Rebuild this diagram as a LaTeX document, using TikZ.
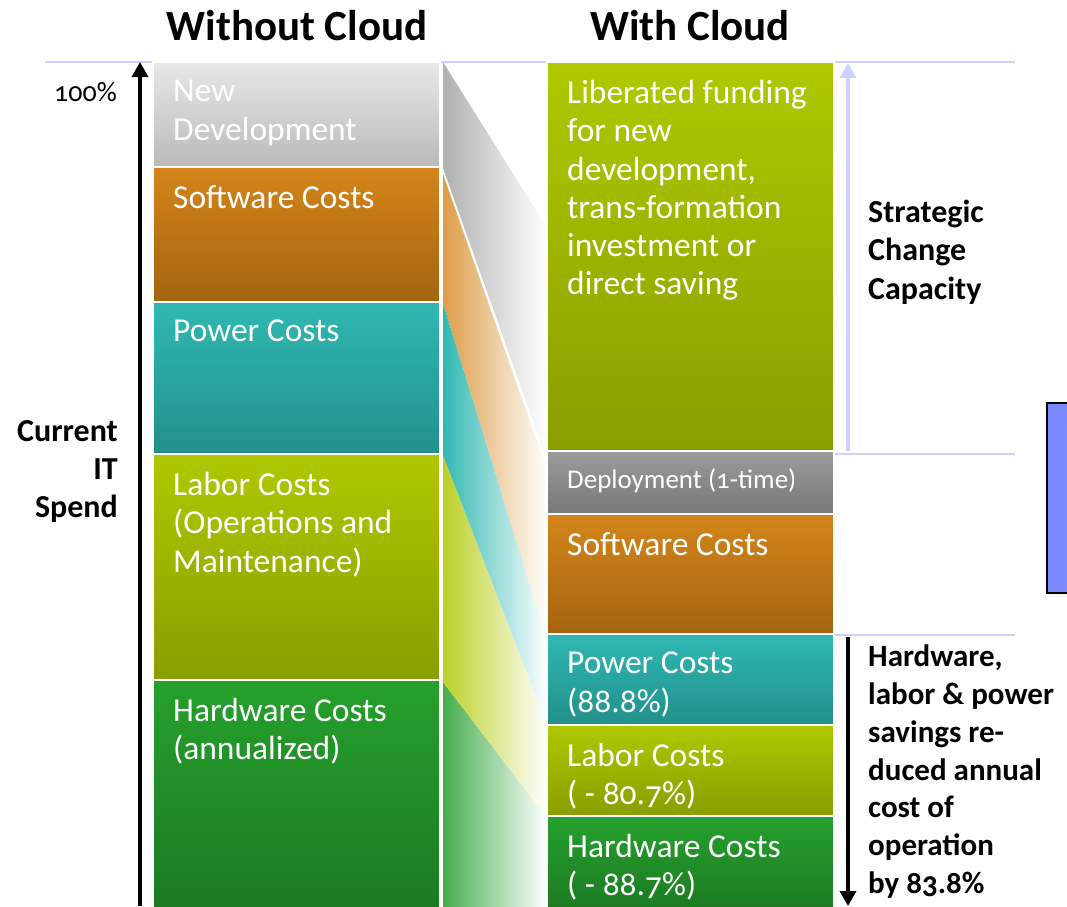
\documentclass[tikz,border=0pt]{standalone}
\usepackage{fontspec}
\setmainfont{Carlito}[Numbers=OldStyle]
\usetikzlibrary{arrows.meta}
\definecolor{ndevtop}{HTML}{E8E8E8}\definecolor{ndevbot}{HTML}{BABABA}
\definecolor{softtop}{HTML}{D4851A}\definecolor{softbot}{HTML}{A4640F}
\definecolor{powtop}{HTML}{30B8B3}\definecolor{powbot}{HTML}{22908B}
\definecolor{labtop}{HTML}{B0C800}\definecolor{labbot}{HTML}{8A9D00}
\definecolor{hardtop}{HTML}{25A02D}\definecolor{hardbot}{HTML}{1C7A22}
\definecolor{deptop}{HTML}{9C9C9C}\definecolor{depbot}{HTML}{777777}
\definecolor{guide}{HTML}{D0D0FF}
\definecolor{panel}{HTML}{7B8BFF}
\newcommand{\costbox}[6]{%
  \shade[top color=#4top, bottom color=#4bot, draw=white, line width=2pt] (#1,#2) rectangle (#1+287,#3);
  \node[boxtext] (#5) at (#1+20,#2+18) {#6};}
\newcommand{\funnel}[5]{\shade[left color=#1, right color=white] (443,#2) -- (443,#3) -- (547,#4) -- (547,#5) -- cycle;}

\begin{document}
\begin{tikzpicture}[x=1pt, y=-1pt,
    boxtext/.style={anchor=north west, inner sep=0pt, text=white, align=left,
      font=\fontsize{33.5}{38.3}\selectfont},
    label/.style={inner sep=0pt, font=\bfseries\fontsize{32}{38.3}\selectfont},
    title/.style={anchor=base, inner sep=0pt, font=\bfseries\fontsize{43}{50}\selectfont},
    guideline/.style={draw=guide, line width=2pt},
    tip/.style={-{Triangle[width=16pt,length=15pt]}, line width=3.5pt}]
  \useasboundingbox (0,0) rectangle (1067,906);
  \node[title] (without) at (297,40) {Without Cloud};
  \node[title] (with) at (690,40) {With Cloud};
  \draw[guideline] (45,62) -- (1015,62);
  \draw[guideline] (835,454) -- (1015,454);
  \draw[guideline] (835,635) -- (1015,635);

  \funnel{hardtop!85!white}{682}{910}{910}{818}
  \funnel{labtop!85!white}{455}{682}{818}{725}
  \funnel{powtop}{303}{455}{725}{640}
  \funnel{softtop!80!white}{174}{303}{640}{470}
  \funnel{ndevbot!95!black}{62}{168}{460}{228}

  \costbox{153}{62}{167}{ndev}{ndevl}{New\\Development}
  \costbox{153}{167}{302}{soft}{softl}{Software Costs}
  \costbox{153}{302}{454}{pow}{powl}{Power Costs}
  \costbox{153}{454}{680}{lab}{labl}{Labor Costs\\(Operations and\\Maintenance)}
  \costbox{153}{680}{912}{hard}{hardl}{Hardware Costs\\(annualized)}

  \costbox{547}{62}{451}{lab}{libr}{Liberated funding\\for new\\development,\\trans-formation\\investment or\\direct saving}
  \costbox{547}{451}{514}{dep}{depr}{\fontsize{27}{32}\selectfont Deployment (1-time)}
  \costbox{547}{514}{634}{soft}{softr}{Software Costs}
  \costbox{547}{634}{725}{pow}{powr}{Power Costs\\(88.8\%)}
  \costbox{547}{725}{816}{lab}{labr}{Labor Costs\\( - 80.7\%)}
  \costbox{547}{816}{912}{hard}{hardr}{Hardware Costs\\( - 88.7\%)}

  \node[anchor=base east, inner sep=0pt, font=\fontsize{28}{30}\selectfont] (full) at (117,101) {100\%};
  \node[label, anchor=north east, align=right] (spend) at (118,420) {Current\\IT\\Spend};
  \node[label, anchor=north west, align=left] (strategic) at (868,200) {Strategic\\Change\\Capacity};
  \node[label, anchor=north west, align=left, font=\bfseries\fontsize{31}{37.7}\selectfont] (savings) at (868,645)
    {Hardware,\\labor \& power\\savings re-\\duced annual\\cost of\\operation\\by 83.8\%};

  \coordinate (spendtop) at (140,62);
  \coordinate (spendbot) at (140,906);
  \draw[tip, {Triangle[width=16pt,length=15pt]}-] (spendtop) -- (spendbot);
  \coordinate (gainbot) at (848,451);
  \coordinate (gaintop) at (848,63);
  \draw[tip, draw=guide, fill=guide] (gainbot) -- (gaintop);
  \coordinate (cuttop) at (848,637);
  \coordinate (cutbot) at (848,906);
  \draw[tip] (cuttop) -- (cutbot);

  \draw[fill=panel, line width=2pt] (1047,403) rectangle (1090,593);
\end{tikzpicture}
\end{document}
